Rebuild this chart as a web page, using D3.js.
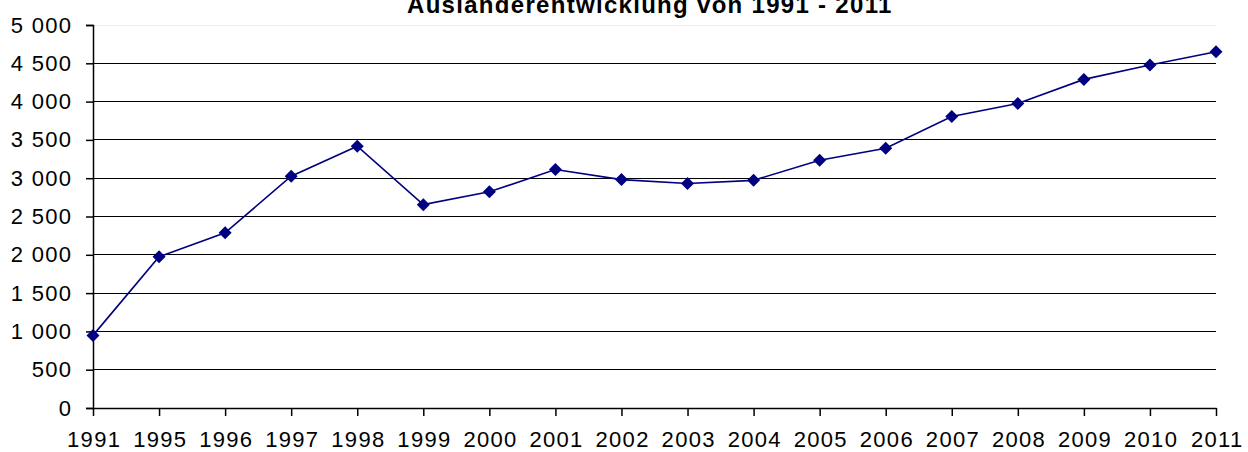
<!DOCTYPE html>
<html><head><meta charset="utf-8">
<script src="https://cdn.jsdelivr.net/npm/d3@7"></script>
<style>body{margin:0;background:#fff}text{font-family:"Liberation Sans",Arial,sans-serif}</style>
</head><body>
<svg id="c" width="1248" height="452"></svg>
<script>
const years = ["1991","1995","1996","1997","1998","1999","2000","2001","2002","2003","2004","2005","2006","2007","2008","2009","2010","2011"];
const values = [948,1974,2287,3026,3418,2655,2822,3113,2982,2930,2972,3235,3390,3806,3976,4290,4477,4651];
const yTicks = [0,500,1000,1500,2000,2500,3000,3500,4000,4500,5000];
const title = "Ausländerentwicklung von 1991 - 2011";

const svg = d3.select("#c");
const L = 93, R = 1216, T = 25, B = 408;
const LS = 1.3;
const FS = 22;
const x = d3.scalePoint().domain(years).range([L, R]);
const y = d3.scaleLinear().domain([0, 5000]).range([B, T]);
const fmt = v => d3.format(",")(v).replace(/,/g, " ");

// gridlines
svg.append("g").selectAll("line").data(yTicks.filter(d => d > 0)).join("line")
  .attr("x1", L).attr("x2", R).attr("y1", d => y(d)).attr("y2", d => y(d))
  .attr("stroke", d => d === 5000 ? "#f0f0f0" : "#000").attr("stroke-width", 1)
  .attr("shape-rendering", "crispEdges");

// y axis
const ya = svg.append("g").attr("transform", `translate(${L},0)`)
  .call(d3.axisLeft(y).tickValues(yTicks).tickFormat(fmt).tickSize(7).tickPadding(15 - LS));
ya.select(".domain").attr("stroke", "#000").attr("stroke-width", 1.5);
ya.selectAll(".tick line").attr("stroke", "#000").attr("stroke-width", 1.5);
ya.selectAll("text").attr("font-size", FS).attr("fill", "#000")
  .attr("letter-spacing", LS).attr("font-family", "Liberation Sans, Arial, sans-serif");

// x axis
const xa = svg.append("g").attr("transform", `translate(0,${B})`)
  .call(d3.axisBottom(x).tickSize(8).tickPadding(15).tickSizeOuter(0));
xa.select(".domain").attr("stroke", "#000").attr("stroke-width", 1.5);
xa.selectAll(".tick line").attr("stroke", "#000").attr("stroke-width", 1.5);
xa.selectAll("text").attr("font-size", FS).attr("fill", "#000")
  .attr("letter-spacing", LS).attr("dx", LS / 2).attr("font-family", "Liberation Sans, Arial, sans-serif");

// line
const data = years.map((yr, i) => ({yr, v: values[i]}));
svg.append("path").datum(data)
  .attr("fill", "none").attr("stroke", "#000080").attr("stroke-width", 1.6)
  .attr("d", d3.line().x(d => x(d.yr)).y(d => y(d.v)));

// markers
svg.append("g").selectAll("path").data(data).join("path")
  .attr("transform", d => `translate(${x(d.yr)},${y(d.v)})`)
  .attr("d", "M0,-6.5L6.5,0L0,6.5L-6.5,0Z")
  .attr("fill", "#000080");

// title
svg.append("text").attr("x", 407).attr("y", 13).attr("text-anchor", "start")
  .attr("font-size", 24).attr("font-weight", "bold").attr("letter-spacing", 1.3)
  .attr("fill", "#000").text(title);
</script>
</body></html>
